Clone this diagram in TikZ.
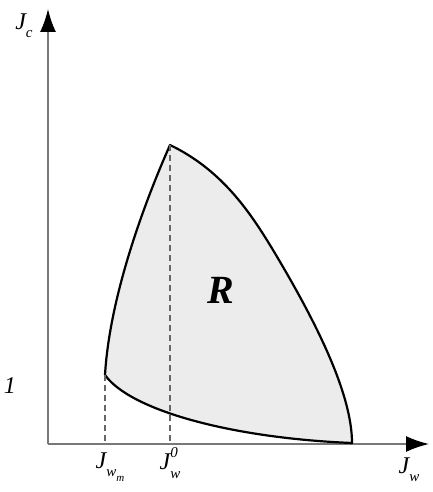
\documentclass[tikz,border=0pt]{standalone}
\usepackage{fontspec}
\setmainfont{Liberation Serif}
\usetikzlibrary{arrows.meta}
\newcommand{\lo}[1]{\raisebox{-0.35em}{\fontsize{15}{15}\selectfont #1}}
\newcommand{\hi}[1]{\raisebox{0.5em}{\fontsize{15}{15}\selectfont #1}}

\begin{document}
\begin{tikzpicture}[x=1pt,y=-1pt]
  \definecolor{colRegion}{RGB}{236,236,236}
  \definecolor{colAxis}{RGB}{120,120,120}
  \tikzset{
    axisline/.style={colAxis,line width=1.5pt},
    axistip/.style={-{Latex[length=23pt,width=16pt,black]}},
    guide/.style={dash pattern=on 6pt off 4pt,line width=1.4pt,black!60},
    lbl/.style={font=\fontsize{24}{26}\selectfont\itshape,inner sep=0pt}
  }
  \useasboundingbox (0,0) rectangle (432,492);
  % axes
  \coordinate (O) at (48,444);
  \coordinate (ytip) at (48,9);
  \coordinate (xtip) at (429,444);
  \draw[axisline,axistip] (O) -- (ytip);
  \draw[axisline,axistip] (O) -- (xtip);
  % region R
  \coordinate (top) at (170,145);
  \coordinate (wm) at (105,375);
  \coordinate (foot) at (352,443);
  \coordinate (mid) at (273,250);
  \filldraw[fill=colRegion,line width=2.2pt,line join=round]
    (top) .. controls (150,190) and (110,290) .. (wm)
    .. controls (130,410) and (230,438) .. (foot)
    .. controls (352,393) and (315,320) .. (mid)
    .. controls (250,212) and (222,170) .. (top) -- cycle;
  % guides
  \coordinate (wmx) at (105,444);
  \coordinate (w0x) at (170,444);
  \draw[guide] (wm) -- (wmx);
  \draw[guide] (top) -- (w0x);
  % labels
  \node[lbl] (Jc) at (24,26) {J\lo{c}};
  \node[lbl] (Jw) at (409,470) {J\lo{w}};
  \node[lbl] (one) at (10,386) {1};
  \node[lbl] (Jwm) at (110,467) {J\lo{w\lo{\fontsize{11}{11}\selectfont m}}};
  \node[lbl] (Jw0) at (176,463) {J\rlap{\hi{0}}\lo{w}\hphantom{0}};
  \node[font=\fontsize{40}{40}\selectfont\bfseries\itshape,inner sep=0pt] (R) at (221,290) {R};
\end{tikzpicture}
\end{document}
